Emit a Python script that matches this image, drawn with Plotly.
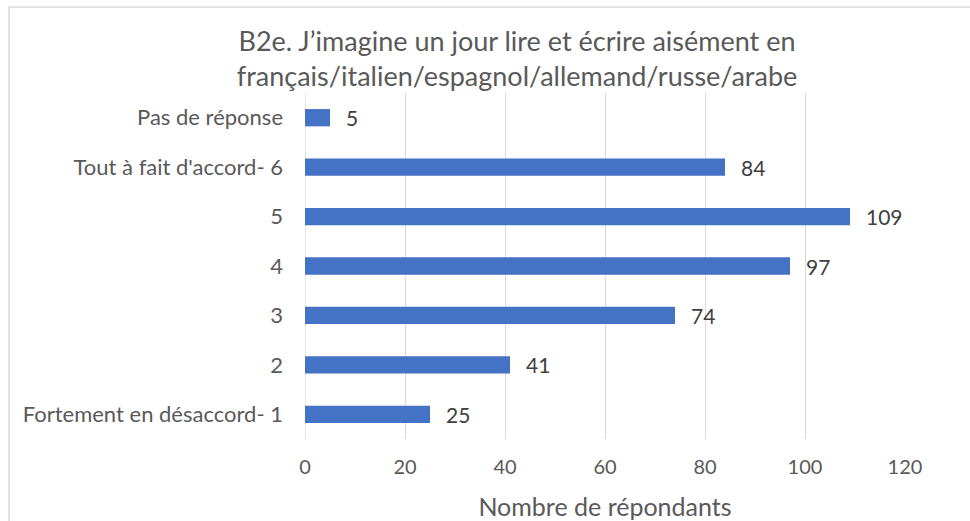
import plotly.graph_objects as go

categories = ["Fortement en désaccord- 1", "2", "3", "4", "5", "Tout à fait d'accord- 6", "Pas de réponse"]
values = [25, 41, 74, 97, 109, 84, 5]
x_ticks = [0, 20, 40, 60, 80, 100, 120]

title_text = "B2e. J’imagine un jour lire et écrire aisément en<br>français/italien/espagnol/allemand/russe/arabe"
x_title = "Nombre de répondants"

FONT = "Lato, 'Open Sans', sans-serif"

fig = go.Figure()
fig.add_trace(go.Bar(
    x=values, y=categories, orientation="h",
    marker=dict(color="#4472C4", line=dict(width=0)),
    width=0.35,
    hoverinfo="x+y",
))

for i, (v, c) in enumerate(zip(values, categories)):
    fig.add_annotation(x=v, y=i, text=str(v), showarrow=False,
                       xanchor="left", yanchor="middle", xshift=14,
                       font=dict(family=FONT, size=21, color="#404040"))

# outer chart border (left/top visible)
fig.add_shape(type="rect", xref="paper", yref="paper",
              x0=(9 - 305) / 600, x1=(990 - 305) / 600,
              y0=(439 - 540) / 346, y1=(439 - 7) / 346,
              line=dict(color="#D9D9D9", width=1.5), fillcolor="rgba(0,0,0,0)", layer="below")

fig.update_layout(
    width=970, height=521,
    margin=dict(l=305, r=65, t=93, b=82, autoexpand=False),
    paper_bgcolor="white", plot_bgcolor="white",
    showlegend=False,
    title=dict(text=title_text, x=0.533, xanchor="center", y=1 - 51 / 521, yanchor="middle",
               font=dict(family=FONT, size=27, color="#595959")),
    xaxis=dict(range=[0, 120], tickvals=x_ticks, ticktext=[str(t) for t in x_ticks],
               showgrid=True, gridcolor="#D9D9D9", gridwidth=1.3,
               zeroline=False, showline=False, ticks="", ticklabelstandoff=14,
               tickfont=dict(family=FONT, size=20, color="#595959"),
               title=dict(text=x_title, font=dict(family=FONT, size=25, color="#595959"), standoff=21)),
    yaxis=dict(showgrid=False, zeroline=False, showline=False, ticks="",
               tickfont=dict(family=FONT, size=22, color="#595959"),
               categoryorder="array", categoryarray=categories, ticklabelstandoff=21),
)
fig.add_shape(type="line", xref="x", yref="paper", x0=0, x1=0, y0=0, y1=1,
              line=dict(color="#D9D9D9", width=1.3), layer="below")

fig.write_html("out.html", config={"displayModeBar": False},
               post_script="document.body.style.margin='0';")
